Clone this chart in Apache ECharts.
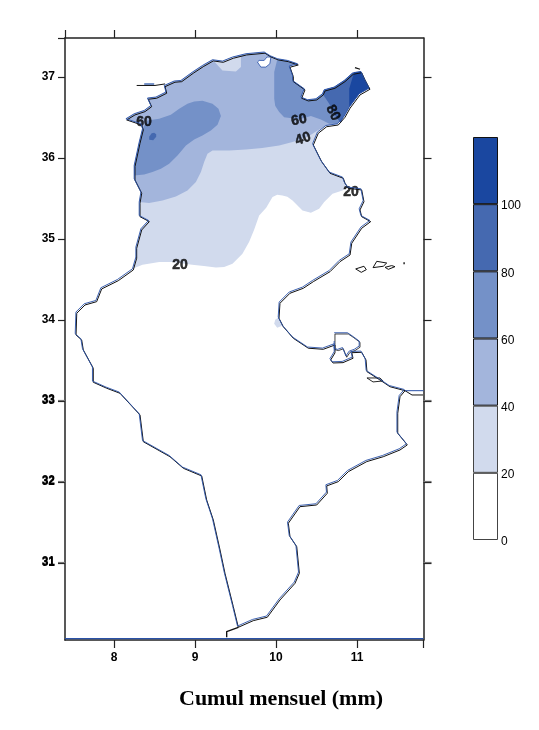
<!DOCTYPE html>
<html>
<head>
<meta charset="utf-8">
<style>html,body{margin:0;padding:0;background:#fff}#main{width:539px;height:730px}</style>
<script src="https://cdn.jsdelivr.net/npm/echarts@6/dist/echarts.min.js"></script>
</head>
<body>
<div id="main"></div>
<script>
// trait de cote, decoupe pour reutiliser les morceaux dans les plages
var coastA = [[8.157,36.469],[8.259,36.531],[8.383,36.572],[8.465,36.633],[8.423,36.725],[8.527,36.737],[8.651,36.799],[8.630,36.880],[8.753,36.935],[8.836,36.942],[8.979,37.046],[9.102,37.127],[9.226,37.198],[9.349,37.181],[9.473,37.231],[9.638,37.272],[9.864,37.293],[9.938,37.247]];
var coastB = [[10.028,37.210],[10.152,37.189],[10.275,37.148],[10.173,37.120],[10.214,37.004],[10.214,36.942],[10.358,36.840],[10.317,36.737],[10.399,36.704],[10.503,36.716],[10.584,36.778]];
var coastC = [[10.605,36.827],[10.728,36.860],[10.852,36.942],[10.954,37.033]];
var coastD = [[11.058,37.053],[11.099,36.963],[11.160,36.848],[11.037,36.778],[10.914,36.614]];
var coastE = [[10.852,36.502],[10.769,36.407]];
var coastF = [[10.626,36.386],[10.522,36.305],[10.461,36.160],[10.522,36.037],[10.564,35.954],[10.667,35.811],[10.831,35.749],[10.852,35.688],[10.893,35.626]];
var coastSouth = [[11.058,35.605],[11.086,35.460],[11.037,35.358],[11.058,35.275],[11.169,35.214],[11.058,35.132],[10.935,34.947],[10.914,34.802],[10.790,34.720],[10.667,34.596],[10.461,34.473],[10.337,34.391],[10.173,34.330],[10.049,34.206],[10.037,34.021],[10.090,33.917],[10.214,33.774],[10.399,33.651],[10.584,33.638],[10.728,33.691],[10.728,33.593],[10.675,33.506],[10.704,33.469],[10.827,33.473],[10.951,33.527],[10.935,33.596],[11.058,33.601],[11.111,33.506],[11.123,33.362],[11.284,33.259],[11.407,33.176],[11.593,33.127]];
var borderEast = [[11.531,33.053],[11.503,32.848],[11.503,32.601],[11.621,32.457],[11.531,32.395],[11.325,32.312],[11.120,32.251],[10.893,32.127],[10.769,32.004],[10.626,31.951],[10.633,31.860],[10.503,31.716],[10.296,31.695],[10.152,31.490],[10.173,31.325],[10.256,31.201],[10.288,30.873],[10.235,30.749],[10.049,30.543],[9.893,30.330],[9.720,30.288],[9.535,30.206]];
var borderWest = [[9.473,30.460],[9.370,30.873],[9.309,31.160],[9.226,31.531],[9.144,31.778],[9.083,32.074],[8.856,32.169],[8.691,32.312],[8.362,32.497],[8.321,32.827],[8.074,33.095],[7.910,33.157],[7.744,33.231],[7.744,33.404],[7.621,33.630],[7.601,33.753],[7.531,33.815],[7.540,34.083],[7.642,34.185],[7.786,34.226],[7.848,34.383],[8.053,34.485]];
var westA = [[8.238,34.617],[8.280,34.762],[8.280,34.885],[8.342,35.111],[8.436,35.214],[8.321,35.275]];
var westB = [[8.321,35.441],[8.342,35.564],[8.259,35.728]];
var westC = [[8.259,35.893],[8.321,36.181],[8.362,36.346]];
var westD = [[8.342,36.407]];

var contour20 = [[10.831,35.584],[10.708,35.543],[10.605,35.440],[10.543,35.358],[10.441,35.309],[10.337,35.337],[10.214,35.460],[10.150,35.507],[10.090,35.522],[10.025,35.530],[9.967,35.502],[9.889,35.370],[9.802,35.275],[9.740,35.100],[9.679,34.951],[9.596,34.802],[9.473,34.679],[9.370,34.638],[9.268,34.633],[9.120,34.650],[8.975,34.667],[8.728,34.700],[8.568,34.700],[8.362,34.667]];
var contour40 = [[10.522,36.325],[10.441,36.272],[10.337,36.222],[10.214,36.181],[10.049,36.140],[9.840,36.107],[9.638,36.090],[9.432,36.078],[9.226,36.078],[9.164,36.037],[9.123,35.935],[9.083,35.811],[9.021,35.688],[8.917,35.584],[8.774,35.510],[8.609,35.461],[8.444,35.428]];
var contour60West = [[8.259,35.769],[8.383,35.781],[8.485,35.811],[8.589,35.852],[8.691,35.914],[8.794,36.016],[8.898,36.140],[9.000,36.214],[9.102,36.263],[9.206,36.325],[9.288,36.395],[9.330,36.502],[9.300,36.593],[9.226,36.654],[9.102,36.691],[9.000,36.683],[8.917,36.654],[8.815,36.593],[8.712,36.518],[8.568,36.469],[8.423,36.448]];
var contour60East = [[10.667,36.407],[10.564,36.460],[10.441,36.502],[10.296,36.463],[10.111,36.488],[10.049,36.552],[10.000,36.630],[9.988,36.716],[9.988,37.046]];
var contour80 = [[10.811,36.416],[10.749,36.490],[10.667,36.654],[10.584,36.778]];
var contour100 = [[10.914,36.840],[10.975,37.046]];
var peak80 = [[8.531,36.277],[8.531,36.247],[8.494,36.204],[8.444,36.210],[8.444,36.247],[8.475,36.290],[8.506,36.296]];
var patch20North = [[9.235,37.189],[9.349,37.065],[9.515,37.053],[9.577,37.107],[9.577,37.231],[9.473,37.231],[9.349,37.181]];
var patch20Gabes = [[10.037,34.012],[10.086,33.914],[10.025,33.889],[9.988,33.938],[10.000,33.988]];

// lac de Bizerte, iles
var lake = [[9.781,37.169],[9.823,37.107],[9.885,37.107],[9.934,37.148],[9.947,37.231],[9.898,37.231],[9.864,37.189],[9.802,37.189]];
var djerba = [[10.728,33.827],[10.893,33.827],[10.954,33.786],[11.037,33.725],[11.037,33.663],[10.975,33.622],[10.914,33.601],[10.873,33.540],[10.831,33.644],[10.770,33.622],[10.728,33.634],[10.728,33.725]];
var kerkennahA = [[10.984,34.630],[11.086,34.663],[11.115,34.621],[11.053,34.588]];
var kerkennahB = [[11.198,34.646],[11.244,34.724],[11.367,34.703],[11.325,34.663]];
var kerkennahC = [[11.346,34.650],[11.428,34.671],[11.469,34.658],[11.387,34.625]];
var isletDot = [[11.573,34.700],[11.590,34.700]];
var isletNorth = [[10.975,37.115],[11.037,37.095]];
var isletSouth = [[11.123,33.284],[11.284,33.284],[11.321,33.247],[11.198,33.235]];
var stripWest = [[8.280,36.895],[8.506,36.895],[8.630,36.914]];
var stripBlue = [[8.383,36.910],[8.506,36.910],[8.506,36.880],[8.383,36.880]];
var tailSouth = [[9.535,30.206],[9.391,30.153],[9.391,30.084]];
var tailEast = [[11.593,33.127],[11.679,33.074],[11.815,33.074]];
var blueEast = [[11.593,33.127],[11.821,33.127]];
var blueBottom = [[7.395,30.065],[11.821,30.065]];

var contourLabels = [[8.370,36.444,'60',0],[10.284,36.469,'60',10],[10.333,36.235,'40',18],[10.704,36.556,'80',-62],[10.926,35.580,'20',0],[8.815,34.679,'20',0]];

var xTicks = [8,9,10,11];
var yTicks = [31,32,33,34,35,36,37];
var doubledTicks = [31,32,33];
var bandColors = ['#ffffff','#d1daed','#a3b5dc','#7491c8','#4569b0','#1a47a0'];
var bandSizes = [20,20,20,20,20,20];
var bandTicks = [0,20,40,60,80,100];
var titleText = 'Cumul mensuel (mm)';

var coastNorth = coastA.concat(coastB, coastC, coastD, coastE);
var outline = coastNorth.concat(coastF, coastSouth, borderEast, borderWest, westA, westB, westC, westD, [coastA[0]]);
var fill20 = coastNorth.concat(coastF, contour20, westA, westB, westC, westD);
var fill40 = coastNorth.concat([coastF[0]], contour40, westB, westC, westD);
var fill60West = contour60West.concat(westC.slice().reverse());
var fill60East = coastB.concat(coastC, coastD, coastE, contour60East);
var fill80 = coastC.concat(coastD, [coastE[0]], contour80);
var fill100 = coastD.concat(contour100);

// plage pleine, tracee avec les axes de la carte
function area(points, color, border, axisIndex) {
	return {
		type: 'custom',
		coordinateSystem: 'cartesian2d',
		xAxisIndex: axisIndex,
		yAxisIndex: axisIndex,
		data: points,
		silent: true,
		renderItem: function(params, api) {
			if (params.dataIndex !== 0) return;
			return {
				type: 'polygon',
				shape: { points: points.map(function(p) { return api.coord(p); }) },
				style: { fill: color, stroke: border || null, lineWidth: border ? 0.8 : 0 }
			};
		}
	};
}

function trace(points, color, width, axisIndex) {
	return {
		type: 'line',
		xAxisIndex: axisIndex,
		yAxisIndex: axisIndex,
		data: points,
		showSymbol: false,
		silent: true,
		lineStyle: { color: color, width: width }
	};
}

var black = '#111';
var blue = '#2a52a8';
var series = [
	area(fill20, bandColors[1], null, 2),
	area(patch20Gabes, bandColors[1], null, 2),
	area(fill40, bandColors[2], null, 2),
	area(patch20North, bandColors[1], null, 2),
	area(fill60West, bandColors[3], null, 2),
	area(fill60East, bandColors[3], null, 2),
	area(fill80, bandColors[4], null, 2),
	area(peak80, bandColors[4], null, 2),
	area(fill100, bandColors[5], null, 2),
	area(lake, '#ffffff', blue, 2),
	area(stripBlue, bandColors[3], null, 2),
	trace(outline, black, 1, 0),
	trace(tailSouth, black, 1.4, 0),
	trace(tailEast, black, 1, 0),
	trace(djerba.concat([djerba[0]]), black, 0.8, 0),
	trace(kerkennahA.concat([kerkennahA[0]]), black, 1, 0),
	trace(kerkennahB.concat([kerkennahB[0]]), black, 1, 0),
	trace(kerkennahC.concat([kerkennahC[0]]), black, 1, 0),
	trace(isletDot, black, 2, 0),
	trace(isletNorth, black, 1.2, 0),
	trace(isletSouth.concat([isletSouth[0]]), black, 0.9, 0),
	trace(stripWest, black, 1, 0),
	trace(outline, blue, 0.9, 2),
	trace(blueEast, blue, 1, 0),
	trace(blueBottom, blue, 1.2, 0),
	trace(djerba, blue, 0.9, 2),
	{
		type: 'scatter',
		xAxisIndex: 0,
		yAxisIndex: 0,
		symbolSize: 0,
		silent: true,
		data: contourLabels.map(function(l) {
			return {
				value: [l[0], l[1]],
				label: {
					show: true, position: 'inside', formatter: l[2], rotate: l[3],
					fontFamily: 'Liberation Sans', fontSize: 14, fontWeight: 'bold', color: '#000',
					textBorderColor: '#000', textBorderWidth: 0.5
				}
			};
		})
	}
];

// echelle de couleurs
bandSizes.forEach(function(v, i) {
	series.push({
		type: 'bar',
		xAxisIndex: 4,
		yAxisIndex: 5,
		stack: 'bands',
		barWidth: '100%',
		silent: true,
		data: [v],
		itemStyle: { color: bandColors[i], borderColor: i < 2 ? '#444' : '#111', borderWidth: 1 }
	});
});

var tickFont = { fontFamily: 'Liberation Sans', fontSize: 12, fontWeight: 'bold', color: '#000' };
var frame = { lineStyle: { color: '#222', width: 1.5 } };

var option = {
	animation: false,
	backgroundColor: '#fff',
	title: {
		text: titleText, left: 174, top: 683,
		textStyle: { fontFamily: 'Liberation Serif', fontSize: 22, fontWeight: 'bold', color: '#000' }
	},
	grid: [
		{ left: 65, top: 38, width: 358.5, height: 602 },
		{ left: 473, top: 137, width: 25, height: 403 },
		// grille des seules etiquettes de l'echelle, un peu plus bas
		{ left: 473, top: 139, width: 25, height: 403 }
	],
	xAxis: [
		{ gridIndex: 0, type: 'value', position: 'bottom', min: 7.395, max: 11.821, splitLine: { show: false }, axisLine: frame,
			axisTick: { customValues: xTicks.concat([11.821]), length: 8, lineStyle: { color: '#222', width: 1.2 } },
			axisLabel: Object.assign({ customValues: xTicks, margin: 12 }, tickFont) },
		{ gridIndex: 0, type: 'value', position: 'top', min: 7.395, max: 11.821, splitLine: { show: false }, axisLine: frame,
			axisTick: { customValues: [7.395].concat(xTicks), length: 8, lineStyle: { color: '#222', width: 1.2 } },
			axisLabel: { show: false } },
		// meme carte decalee d'un pixel : le trait bleu du masque
		{ gridIndex: 0, type: 'value', min: 7.405, max: 11.831, show: false },
		{ gridIndex: 0, type: 'value', min: 7.395, max: 11.821, show: false },
		{ gridIndex: 1, type: 'category', data: [''], show: false },
		{ gridIndex: 2, type: 'value', show: false }
	],
	yAxis: [
		{ gridIndex: 0, type: 'value', position: 'left', min: 30.049, max: 37.481, splitLine: { show: false }, axisLine: frame,
			axisTick: { customValues: yTicks.concat([37.481]), length: 7, lineStyle: { color: '#222', width: 1.2 } },
			axisLabel: Object.assign({ customValues: yTicks, margin: 10 }, tickFont) },
		{ gridIndex: 0, type: 'value', position: 'right', min: 30.049, max: 37.481, splitLine: { show: false }, axisLine: frame,
			axisTick: { customValues: yTicks, length: 8, lineStyle: { color: '#222', width: 1.2 } },
			axisLabel: { show: false } },
		{ gridIndex: 0, type: 'value', min: 30.034, max: 37.466, show: false },
		{ gridIndex: 0, type: 'value', position: 'right', min: 30.037, max: 37.469, splitLine: { show: false }, axisLine: { show: false },
			axisTick: { customValues: doubledTicks, length: 8, lineStyle: { color: '#777', width: 1.2 } },
			axisLabel: { show: false } },
		{ gridIndex: 0, type: 'value', position: 'left', min: 30.037, max: 37.469, splitLine: { show: false }, axisLine: { show: false },
			axisTick: { customValues: doubledTicks, length: 7, lineStyle: { color: '#777', width: 1.2 } },
			axisLabel: Object.assign({ customValues: doubledTicks, margin: 10 }, tickFont) },
		{ gridIndex: 1, type: 'value', min: 0, max: 120, show: false },
		{ gridIndex: 2, type: 'value', position: 'right', min: 0, max: 120, splitLine: { show: false },
			axisLine: { show: false }, axisTick: { show: false },
			axisLabel: { customValues: bandTicks, margin: 3, fontFamily: 'Liberation Sans', fontSize: 12, color: '#000' } }
	],
	series: series
};

var myChart = echarts.init(document.getElementById('main'));
myChart.setOption(option);
</script>
</body>
</html>
